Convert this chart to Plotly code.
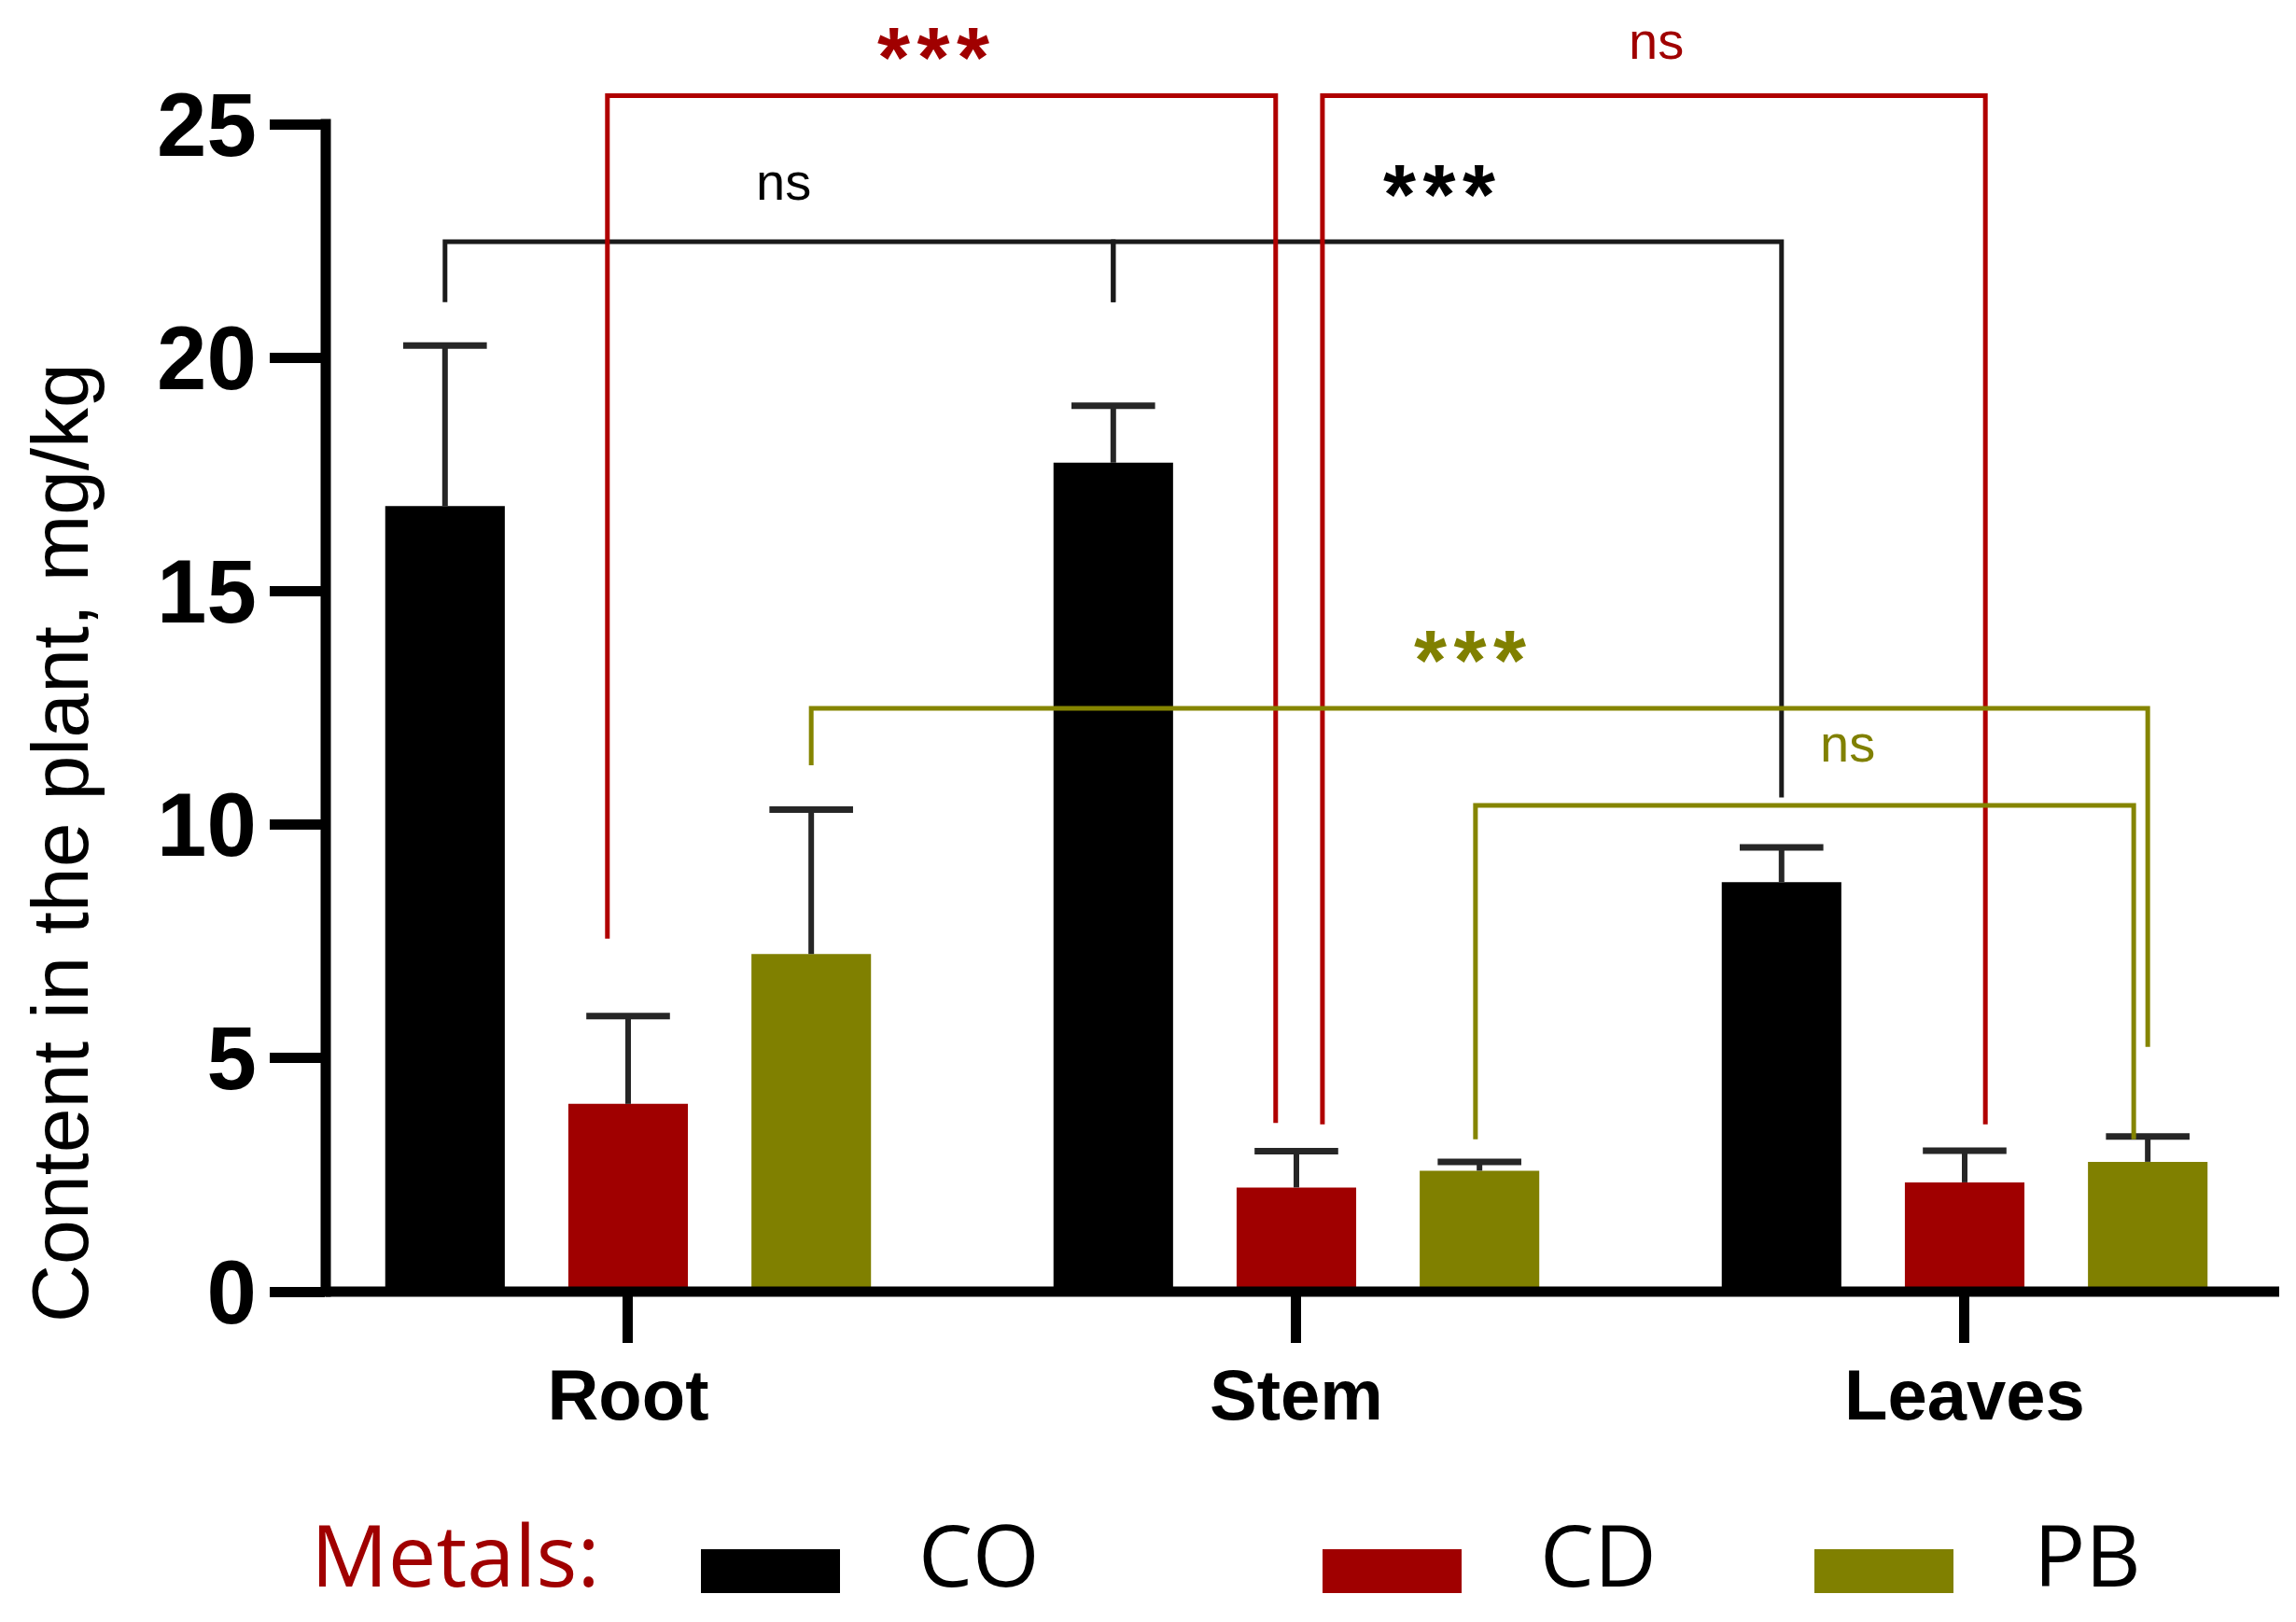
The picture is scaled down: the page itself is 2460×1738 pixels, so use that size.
import plotly.graph_objects as go

# ---------------- data ----------------
categories = ["Root", "Stem", "Leaves"]
metals = ["CO", "CD", "PB"]
co_mean = [16.82, 17.75, 8.77]
co_err = [3.44, 1.22, 0.74]
cd_mean = [4.02, 2.23, 2.34]
cd_err = [1.88, 0.78, 0.68]
pb_mean = [7.23, 2.59, 2.78]
pb_err = [3.09, 0.19, 0.54]
y_ticks = [0, 5, 10, 15, 20, 25]

# significance comparisons: metal index, category a, category b, bracket level,
# drop end at a, drop end at b, label, label position
cmp_metal = [0, 0, 1, 1, 2, 2]
cmp_cat_a = [0, 1, 0, 1, 0, 1]
cmp_cat_b = [1, 2, 1, 2, 2, 2]
cmp_level = [22.48, 22.48, 25.61, 25.61, 12.49, 10.41]
cmp_end_a = [21.19, 21.19, 7.56, 3.58, 11.27, 3.26]
cmp_end_b = [21.19, 10.58, 3.61, 3.58, 5.24, 3.26]
cmp_label = ["ns", "***", "***", "ns", "***", "ns"]
cmp_label_x = [0.233, 1.214, 0.457, 1.539, 1.260, 1.825]
cmp_label_y = [23.72, 23.72, 26.86, 26.86, 13.75, 11.69]

# ---------------- style ----------------
bar_colors = ["#000000", "#A00000", "#808000"]
line_colors = ["#1a1a1a", "#B00000", "#858500"]
err_color = "#262626"
# small horizontal shifts of bracket legs (category units), as drawn in original
leg_shift_a = [0.0, 0.0, -0.031, 0.039, 0.0, -0.006]
leg_shift_b = [0.0, 0.0, -0.031, 0.031, 0.0, -0.021]

WIN_W, WIN_H, BODY = 2460, 1738, 8          # page body has an 8px margin
W, H = WIN_W - 2 * BODY, WIN_H - 2 * BODY
ML, MR, MT, MB = 341, 10, 125, 346
PLOT_W, PLOT_H = W - ML - MR, H - MT - MB
BARGAP = 0.178
BARGROUPGAP = 0.347
SLOT = (1 - BARGAP) / 3
Y_MAX = 25
X_RANGE = [-0.4525, 2.4707]
AXIS_W = 11
ARIAL = "Liberation Sans, Arial, sans-serif"
OPEN = "Open Sans, sans-serif"

means = [co_mean, cd_mean, pb_mean]
errs = [co_err, cd_err, pb_err]
xs = list(range(len(categories)))


def yp(v):
    return v / Y_MAX


def bar_x(metal, cat):
    return cat + (metal - 1) * SLOT


def px_x(p):  # reference window pixel -> paper
    return (p - BODY - ML) / PLOT_W


def px_y(p):
    return (H - MB - (p - BODY)) / PLOT_H


fig = go.Figure()
for k, name in enumerate(metals):
    fig.add_trace(go.Bar(
        x=xs, y=means[k], name=name,
        marker=dict(color=bar_colors[k], line=dict(width=0)),
        error_y=dict(type="data", symmetric=False, array=errs[k],
                     arrayminus=[0] * len(xs), color=err_color,
                     thickness=6, width=0),
        showlegend=False,
    ))
# error bar caps
for k, name in enumerate(metals):
    fig.add_trace(go.Scatter(
        x=[bar_x(k, c) for c in xs],
        y=[m + e for m, e in zip(means[k], errs[k])],
        mode="markers",
        marker=dict(symbol="line-ew", size=64, color=err_color,
                    line=dict(width=7, color=err_color)),
        showlegend=False, hoverinfo="skip", cliponaxis=False,
    ))

shapes = []
annotations = []

# axis lines (centred on the axis values, as in the original)
half_x = (AXIS_W / 2) / PLOT_W
half_y = (AXIS_W / 2) / PLOT_H
shapes.append(dict(type="line", xref="paper", yref="paper", x0=0, x1=1, y0=0, y1=0,
                   line=dict(color="#000000", width=AXIS_W), layer="above"))
shapes.append(dict(type="line", xref="paper", yref="paper", x0=0, x1=0,
                   y0=-half_y, y1=1 + half_y,
                   line=dict(color="#000000", width=AXIS_W), layer="above"))

for i in range(len(cmp_label)):
    m = cmp_metal[i]
    xa = bar_x(m, cmp_cat_a[i]) + leg_shift_a[i]
    xb = bar_x(m, cmp_cat_b[i]) + leg_shift_b[i]
    path = "M {:.4f},{:.5f} L {:.4f},{:.5f} L {:.4f},{:.5f} L {:.4f},{:.5f}".format(
        xa, yp(cmp_end_a[i]), xa, yp(cmp_level[i]),
        xb, yp(cmp_level[i]), xb, yp(cmp_end_b[i]))
    shapes.append(dict(type="path", xref="x", yref="paper", path=path,
                       line=dict(color=line_colors[m], width=5), layer="above"))
    star = cmp_label[i] == "***"
    ann = dict(
        x=cmp_label_x[i], xref="x", yref="paper",
        text="*\u200a*\u200a*" if star else cmp_label[i],
        showarrow=False, xanchor="center",
        font=dict(family=ARIAL, size=90 if star else 56,
                  color=bar_colors[m] if m else "#000000",
                  weight="bold" if star else "normal"),
    )
    if cmp_label_y[i] > Y_MAX + 1.5:
        # labels at the very top: keep the text box inside the page
        ann.update(y=(PLOT_H + MT - 2) / PLOT_H, yanchor="top")
    else:
        ann.update(y=yp(cmp_label_y[i]), yanchor="middle",
                   yshift=-12 if star else 3)
    annotations.append(ann)

# y-axis title
annotations.append(dict(
    x=px_x(64), y=px_y(903), xref="paper", yref="paper",
    text="Content in the plant, mg/kg",
    textangle=-90, showarrow=False, xanchor="center", yanchor="middle",
    font=dict(family=ARIAL, size=86, color="#000000"),
))

# manual legend (bottom row)
LEG_FONT = 92
leg_text_bottom = (H - MB - (H - 1)) / PLOT_H
annotations.append(dict(
    x=px_x(331), y=leg_text_bottom, xref="paper", yref="paper", text="Metals:",
    showarrow=False, xanchor="left", yanchor="bottom",
    font=dict(family=OPEN, size=LEG_FONT, color="#A00000"),
))
leg_rect_x = [751, 1417, 1944]
leg_text_x = [982, 1648, 2177]
for k, name in enumerate(metals):
    shapes.append(dict(type="rect", xref="paper", yref="paper",
                       x0=px_x(leg_rect_x[k]), x1=px_x(leg_rect_x[k] + 149),
                       y0=px_y(1707), y1=px_y(1660),
                       fillcolor=bar_colors[k], line=dict(width=0)))
    annotations.append(dict(
        x=px_x(leg_text_x[k]), y=leg_text_bottom, xref="paper", yref="paper",
        text=name, showarrow=False, xanchor="left", yanchor="bottom",
        font=dict(family=OPEN, size=LEG_FONT, color="#000000"),
    ))

fig.update_layout(
    width=W, height=H,
    margin=dict(l=ML, r=MR, t=MT, b=MB, autoexpand=False),
    paper_bgcolor="white", plot_bgcolor="white",
    barmode="group", bargap=BARGAP, bargroupgap=BARGROUPGAP,
    showlegend=False,
    shapes=shapes, annotations=annotations,
    xaxis=dict(range=X_RANGE, tickvals=xs, ticktext=categories,
               ticks="outside", ticklen=54, tickwidth=AXIS_W, tickcolor="#000000",
               showline=False, showgrid=False, zeroline=False, ticklabelstandoff=-9,
               tickfont=dict(family=ARIAL, size=76, color="#000000", weight="bold")),
    yaxis=dict(range=[0, Y_MAX], tickvals=y_ticks,
               ticks="outside", ticklen=59, tickwidth=AXIS_W, tickcolor="#000000",
               showline=False, showgrid=False, zeroline=False, ticklabelstandoff=-5,
               tickfont=dict(family=ARIAL, size=96, color="#000000", weight="bold")),
)

fig.write_html("out.html")
